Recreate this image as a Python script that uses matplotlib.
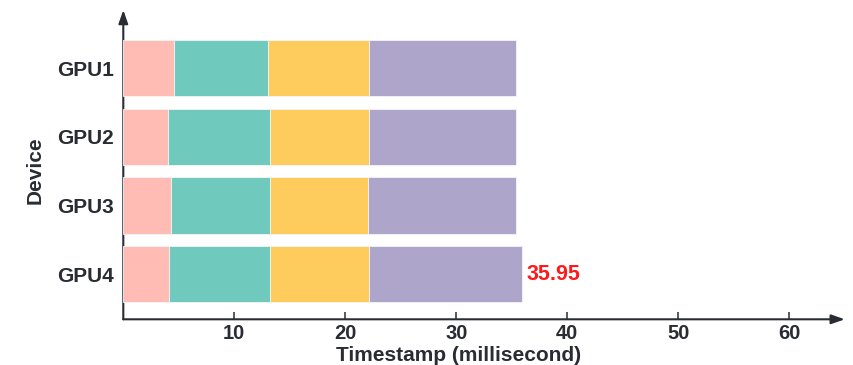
import matplotlib
matplotlib.use("Agg")
import matplotlib.pyplot as plt

# Per-device stage end timestamps (ms); each stage starts where the previous one ends
devices = ["GPU1", "GPU2", "GPU3", "GPU4"]
stage1_end = [4.57, 4.00, 4.30, 4.12]
stage2_end = [13.04, 13.19, 13.19, 13.19]
stage3_end = [22.16, 22.16, 22.05, 22.16]
stage4_end = [35.35, 35.35, 35.35, 35.95]
x_ticks = [10, 20, 30, 40, 50, 60]
total_label = "35.95"

stage_colors = ["#ffbcb5", "#70c9bd", "#fdcc5c", "#ada5ca"]
ink = "#2a2c33"
font = "Liberation Sans"

W, H = 854, 365
fig = plt.figure(figsize=(W / 100, H / 100), dpi=100)
left_px, bottom_px, width_px, height_px = 123.3, 45.7, 721.5, 309.3
ax = fig.add_axes([left_px / W, bottom_px / H, width_px / W, height_px / H])

ypos = list(range(len(devices)))
bounds = [[0.0] * len(devices), stage1_end, stage2_end, stage3_end, stage4_end]
for k in range(4):
    starts = bounds[k]
    widths = [e - s for s, e in zip(starts, bounds[k + 1])]
    ax.barh(ypos, widths, left=starts, height=0.82, color=stage_colors[k],
            edgecolor="#f4f4f8", linewidth=0.6, zorder=3)

# Total time label on the longest bar
ax.annotate(total_label, xy=(stage4_end[-1], ypos[-1]), xytext=(3, 0),
            textcoords="offset points", ha="left", va="center",
            color="#ff1a1a", fontsize=15.5, fontweight="bold", family=font)

ax.set_xlim(0, width_px / 11.1)
ax.set_ylim(3.656, -0.844)

for s in ax.spines.values():
    s.set_visible(False)

# Axis lines with arrow heads
arrow = dict(arrowstyle="-|>,head_length=0.8,head_width=0.28", color=ink, lw=1.5,
             shrinkA=0, shrinkB=0)
ax.annotate("", xy=(1.0, 0), xytext=(0, 0), xycoords="axes fraction",
            arrowprops=arrow, zorder=1)
ax.annotate("", xy=(0, 1.0), xytext=(0, 0), xycoords="axes fraction",
            arrowprops=arrow, zorder=1)

ax.set_xticks(x_ticks)
ax.set_xticklabels([str(t) for t in x_ticks], fontsize=14.5, fontweight="bold",
                   color=ink, family=font)
ax.tick_params(axis="x", direction="in", length=5, width=1.1, color=ink, pad=3.5)

ax.set_yticks(ypos)
ax.set_yticklabels(devices, fontsize=15, fontweight="bold", color=ink, family=font)
ax.tick_params(axis="y", length=0, pad=7)

ax.set_xlabel("Timestamp (millisecond)", fontsize=15, fontweight="bold",
              color=ink, family=font)
ax.xaxis.set_label_coords(0.465, -0.118)
ax.xaxis.label.set_va("center")
ax.set_ylabel("Device", fontsize=15, fontweight="bold", color=ink, family=font)
ax.yaxis.set_label_coords(-0.1217, 0.483)
ax.yaxis.label.set_va("center")

fig.savefig("out.png", dpi=100)
